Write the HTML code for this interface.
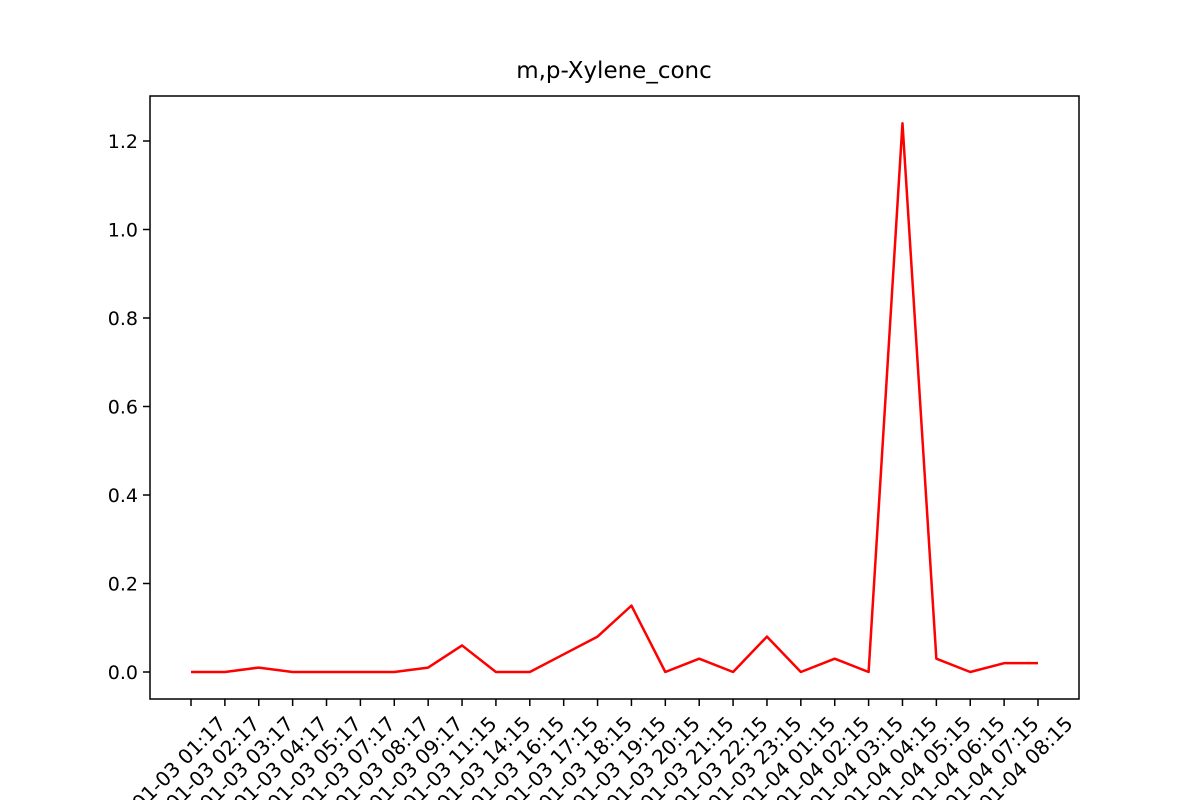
<!DOCTYPE html>
<html><head><meta charset="utf-8"><style>
html,body{margin:0;background:#fff;width:1200px;height:800px;overflow:hidden}
svg{display:block;overflow:hidden}
text{font-family:"DejaVu Sans","Liberation Sans",sans-serif}
</style></head><body>
<svg id="chart" width="1200" height="800">
<rect width="1200" height="800" fill="#fff"/>
<text x="614" y="78" font-size="23" text-anchor="middle">m,p-Xylene_conc</text>
<g id="axes"></g>
<rect x="150" y="96" width="929" height="603" fill="none" stroke="#000" stroke-width="1.5"/>
</svg>
<script>
const categories=["2021-01-03 01:17","2021-01-03 02:17","2021-01-03 03:17","2021-01-03 04:17","2021-01-03 05:17","2021-01-03 07:17","2021-01-03 08:17","2021-01-03 09:17","2021-01-03 11:15","2021-01-03 14:15","2021-01-03 16:15","2021-01-03 17:15","2021-01-03 18:15","2021-01-03 19:15","2021-01-03 20:15","2021-01-03 21:15","2021-01-03 22:15","2021-01-03 23:15","2021-01-04 01:15","2021-01-04 02:15","2021-01-04 03:15","2021-01-04 04:15","2021-01-04 05:15","2021-01-04 06:15","2021-01-04 07:15","2021-01-04 08:15"];
const values=[0,0,0.01,0,0,0,0,0.01,0.06,0,0,0.04,0.08,0.15,0,0.03,0,0.08,0,0.03,0,1.24,0.03,0,0.02,0.02];
const yTicks=[0,0.2,0.4,0.6,0.8,1.0,1.2];
const ns="http://www.w3.org/2000/svg";
const g=document.getElementById('axes');
function xS(i){return 191+i*(1038-191)/(categories.length-1);}
function yS(v){return 672-v*(672-141)/1.2;}
function mk(t,a){const e=document.createElementNS(ns,t);for(const k in a)e.setAttribute(k,a[k]);g.appendChild(e);return e;}
yTicks.forEach(v=>{
 const y=yS(v);
 const t=mk('line',{x1:143,x2:150,y1:y,y2:y,stroke:'#000','stroke-width':1.5});
 
 
 const l=mk('text',{x:138,y:y+7,'font-size':19,'text-anchor':'end'});
 l.textContent=v.toFixed(1);
 
 
});
categories.forEach((c,i)=>{
 const x=xS(i);
 const t=mk('line',{x1:x,x2:x,y1:699,y2:706,stroke:'#000','stroke-width':1.5});
 
 
 const ax=x+36, ay=725;
 const l=mk('text',{x:ax,y:ay,'font-size':20,'text-anchor':'end',transform:`rotate(-45 ${ax} ${ay})`});
 l.textContent=c;
 
 
});
const p=mk('polyline',{points:values.map((v,i)=>xS(i)+','+yS(v)).join(' '),fill:'none',stroke:'#f00','stroke-width':2.5,'stroke-linejoin':'round'});


</script>
</body></html>
